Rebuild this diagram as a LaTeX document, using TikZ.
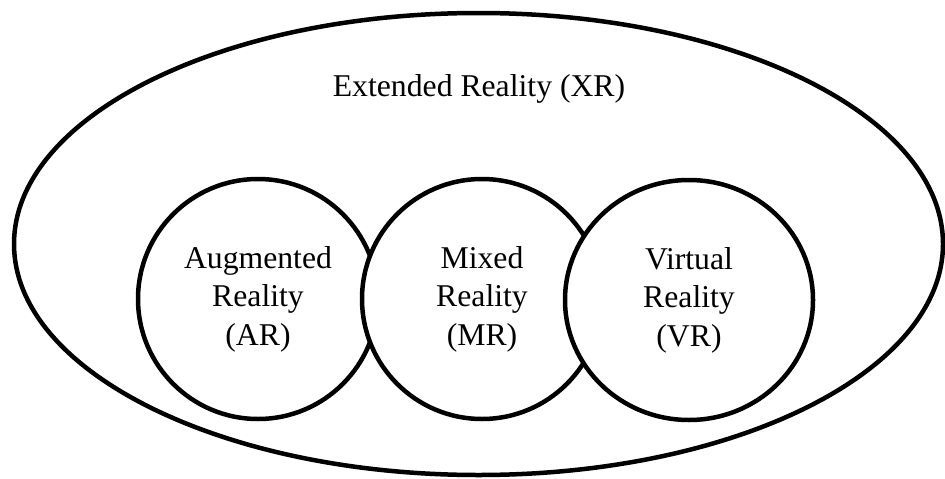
\documentclass[tikz,border=0pt]{standalone}
\usepackage{fontspec}
\setmainfont{Liberation Serif}
\usetikzlibrary{shapes.geometric}

\begin{document}
\begin{tikzpicture}[x=1pt,y=-1pt]
\tikzset{every node/.style={font=\fontsize{31.7}{38.5}\selectfont},
         realm/.style={draw,ellipse,fill=white,line width=4.5pt,inner sep=0pt,
                       align=center,minimum width=240pt,minimum height=240pt}}
\useasboundingbox (0,0) rectangle (945,479);
\draw[line width=4.5pt] (478.5,244) ellipse [x radius=464.5, y radius=231];
\node[anchor=base] (xr) at (479,96) {Extended Reality (XR)};
\node[realm] (ar) at (258,299) {Augmented\\Reality\\(AR)};
\node[realm] (mr) at (482,299) {Mixed\\Reality\\(MR)};
\node[realm,minimum width=248pt] (vr) at (689,300) {Virtual\\Reality\\(VR)};
\end{tikzpicture}
\end{document}
